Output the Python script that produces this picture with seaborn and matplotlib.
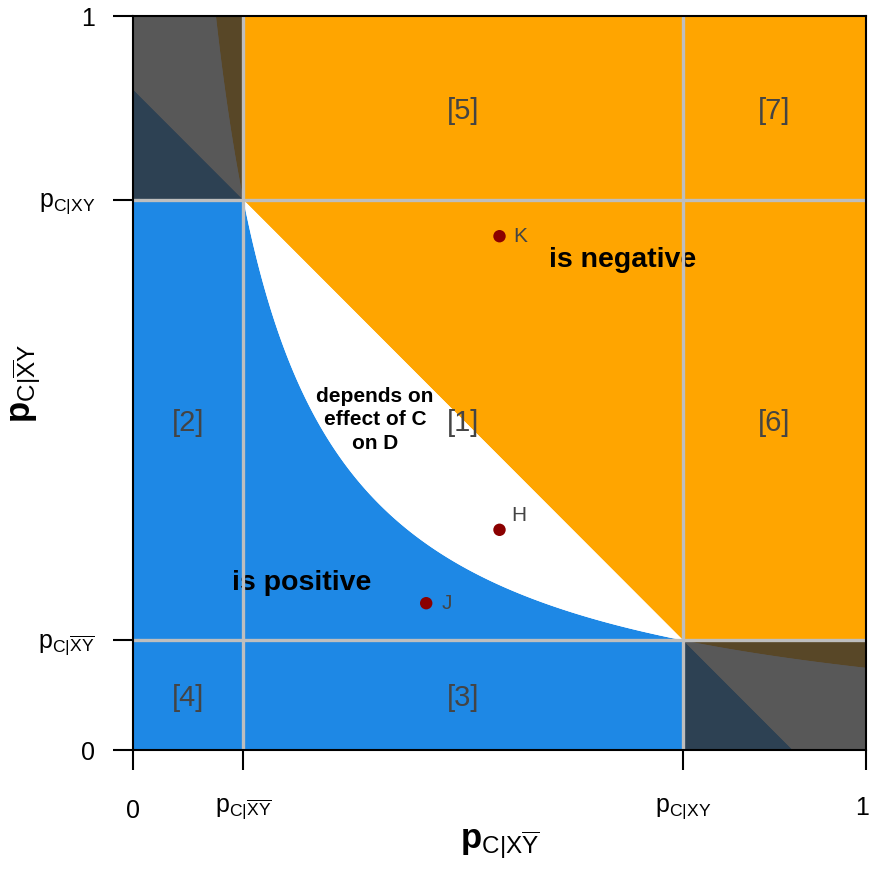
import numpy as np
import pandas as pd
import matplotlib
matplotlib.use("Agg")
import matplotlib.pyplot as plt
import matplotlib.transforms as mtransforms
import seaborn as sns

# ---- data ----
p_low = 0.15    # p_{C|not X not Y}
p_high = 0.75   # p_{C|XY}
point_names = ["K", "H", "J"]
point_x = [0.50, 0.50, 0.40]
point_y = [0.70, 0.30, 0.20]
region_labels = ["[1]", "[2]", "[3]", "[4]", "[5]", "[6]", "[7]"]
tick_vals = [0, p_low, p_high, 1]
xtick_labels = ["0", r"$\mathrm{p}_{\mathrm{C|\overline{XY}}}$", r"$\mathrm{p}_{\mathrm{C|XY}}$", "1"]
ytick_labels = ["0", r"$\mathrm{p}_{\mathrm{C|\overline{XY}}}$", r"$\mathrm{p}_{\mathrm{C|XY}}$", "1"]

sns.set_style("white")
plt.rcParams["font.family"] = ["Liberation Sans", "DejaVu Sans"]
plt.rcParams["mathtext.fontset"] = "custom"
plt.rcParams["mathtext.rm"] = "Liberation Sans"
plt.rcParams["mathtext.bf"] = "Liberation Sans:bold"
plt.rcParams["mathtext.it"] = "Liberation Sans:italic"
plt.rcParams["text.color"] = "black"

BLUE = "#1E88E5"
ORANGE = "#FFA500"
SHADE = "#313131"
GRID = "#BEBEBE"
LABEL_GRAY = "#444444"

fig = plt.figure(figsize=(8.7, 8.71), dpi=100)
ax = fig.add_axes([133/870, 1-750/871, (866-133)/870, (750-16)/871])
ax.set_xlim(0, 1)
ax.set_ylim(0, 1)

# boundaries: line x+y = p_low+p_high and hyperbola x*y = p_low*p_high
xs = np.linspace(1e-4, 1, 2000)
line_b = (p_low + p_high) - xs
hyp_b = (p_low * p_high) / xs
lower = np.clip(np.minimum(line_b, hyp_b), 0, 1)
upper = np.clip(np.maximum(line_b, hyp_b), 0, 1)
ax.fill_between(xs, 0, lower, color=BLUE, lw=0, zorder=1)
ax.fill_between(xs, upper, 1, color=ORANGE, lw=0, zorder=1)
ax.fill_between(xs, lower, upper, color="white", lw=0, zorder=1)

# corner shading
ax.fill_between([0, p_low], p_high, 1, color=SHADE, alpha=0.81, lw=0, zorder=2)
ax.fill_between([p_high, 1], 0, p_low, color=SHADE, alpha=0.81, lw=0, zorder=2)

# grid lines
for v in [p_low, p_high]:
    ax.axvline(v, color=GRID, lw=2.4, zorder=3)
    ax.axhline(v, color=GRID, lw=2.4, zorder=3)

# region labels
mid_lo = p_low / 2
mid_mid = (p_low + p_high) / 2
mid_hi = (p_high + 1) / 2
region_pos = [(mid_mid, mid_mid), (mid_lo, mid_mid), (mid_mid, mid_lo), (mid_lo, mid_lo),
              (mid_mid, mid_hi), (mid_hi, mid_mid), (mid_hi, mid_hi)]
for lab, (rx, ry) in zip(region_labels, region_pos):
    ax.text(rx, ry, lab, color=LABEL_GRAY, fontsize=21, ha="center", va="center_baseline", zorder=4)

ax.text(0.668, 0.668, "is negative", color="black", fontsize=20.5, fontweight="bold",
        ha="center", va="center", zorder=2.5)
ax.text(0.23, 0.228, "is positive", color="black", fontsize=20.5, fontweight="bold",
        ha="center", va="center", zorder=2.5)
ax.text(0.33, 0.45, "depends on\neffect of C\non D", color="black", fontsize=15, fontweight="bold",
        ha="center", va="center", linespacing=1.3, zorder=4)

# points
df = pd.DataFrame({"name": point_names, "x": point_x, "y": point_y})
sns.scatterplot(data=df, x="x", y="y", color="#8B0000", s=80, edgecolor="none", ax=ax, zorder=5)
offsets = {"K": (14, 0), "H": (12, 14), "J": (15, 0)}
for n, px, py in zip(point_names, point_x, point_y):
    dx, dy = offsets[n]
    ax.annotate(n, (px, py), xytext=(dx, dy), textcoords="offset pixels",
                color=LABEL_GRAY, fontsize=15, ha="left", va="center", zorder=5)

# axes
ax.set_xticks(tick_vals)
ax.set_xticklabels(xtick_labels)
ax.set_yticks(tick_vals)
ax.set_yticklabels(ytick_labels)
ax.tick_params(axis="both", direction="out", length=14.4, width=1.5, color="black",
               labelsize=18, labelcolor="black")
ax.tick_params(axis="x", pad=19, bottom=True)
ax.tick_params(axis="y", pad=13, left=True)
for s in ax.spines.values():
    s.set_visible(True)
    s.set_color("black")
    s.set_linewidth(1.5)
    s.set_zorder(6)

# nudge the last x tick label slightly left so it stays inside the figure
lbls = ax.get_xticklabels()
lbls[-1].set_transform(lbls[-1].get_transform() +
                       mtransforms.ScaledTranslation(-4/100, 0, fig.dpi_scale_trans))
lbls[0].set_transform(lbls[0].get_transform() +
                      mtransforms.ScaledTranslation(0, -3/100, fig.dpi_scale_trans))

ax.set_xlabel(r"$\mathbf{p}_{\mathrm{C|X\overline{Y}}}$", fontsize=25, color="black", va="center")
ax.set_ylabel(r"$\mathbf{p}_{\mathrm{C|\overline{X}Y}}$", fontsize=25, color="black", va="center")
ax.xaxis.set_label_coords(0.5, -0.128)
ax.yaxis.set_label_coords(-0.146, 0.5)
ax.grid(False)

fig.savefig("out.png", dpi=100)
